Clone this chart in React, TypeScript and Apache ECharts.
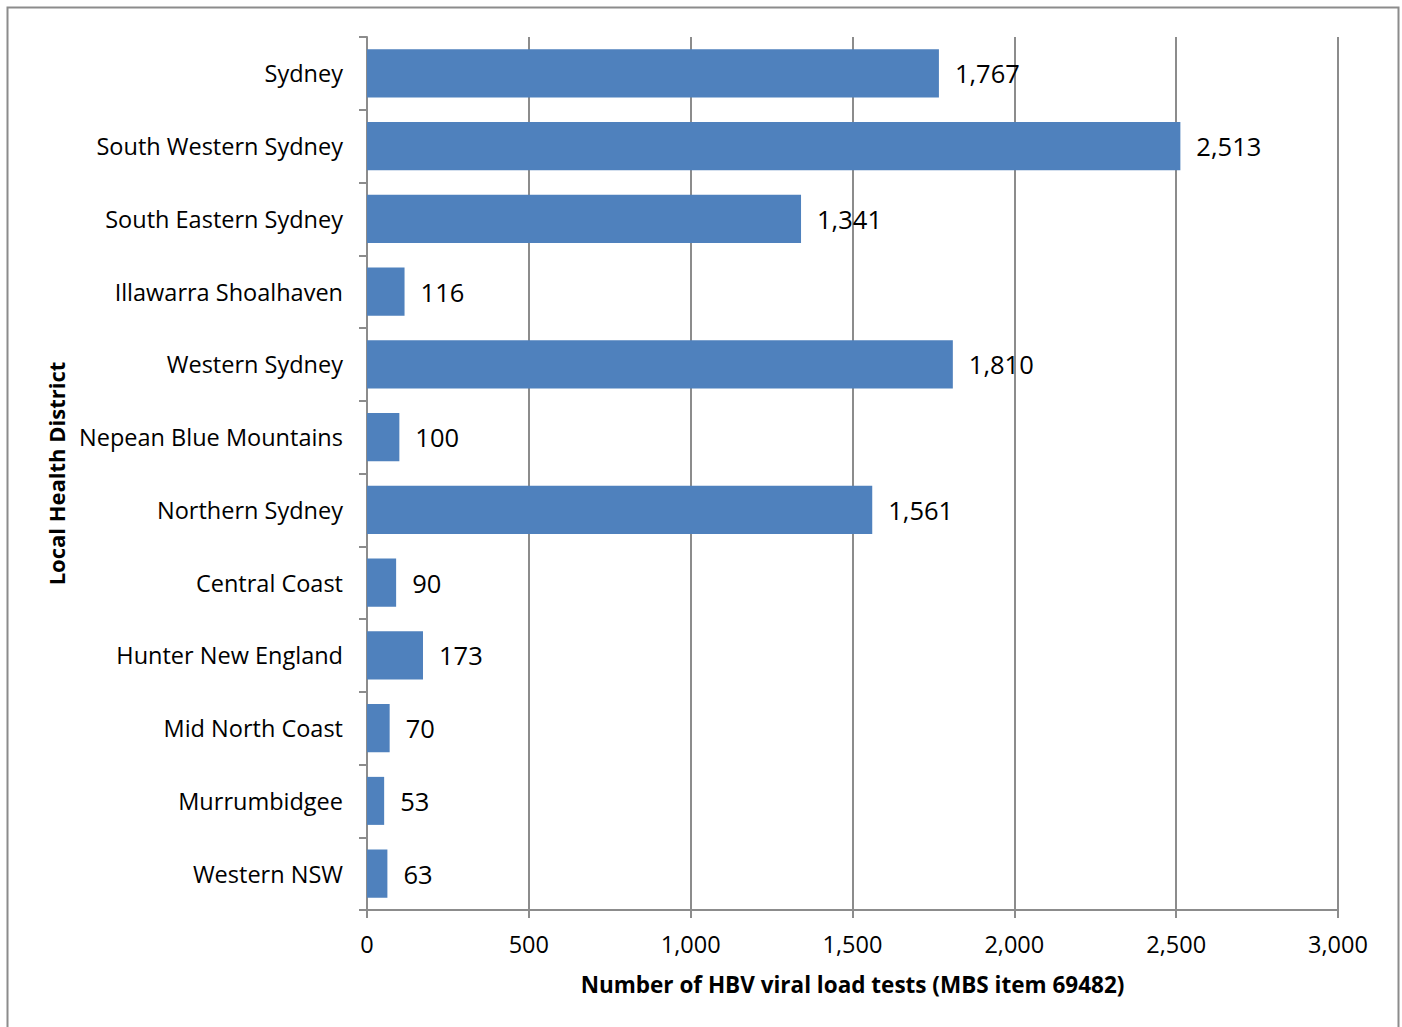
import React, { useEffect, useRef } from "react";
import * as echarts from "echarts";

const districts = [
  "Sydney",
  "South Western Sydney",
  "South Eastern Sydney",
  "Illawarra Shoalhaven",
  "Western Sydney",
  "Nepean Blue Mountains",
  "Northern Sydney",
  "Central Coast",
  "Hunter New England",
  "Mid North Coast",
  "Murrumbidgee",
  "Western NSW",
];

const tests = [1767, 2513, 1341, 116, 1810, 100, 1561, 90, 173, 70, 53, 63];

const FONT = "'Open Sans', Lato, sans-serif";
const fmt = (v: number) => v.toLocaleString("en-US");

const App = () => {
  const chartRef = useRef<HTMLDivElement>(null);

  useEffect(() => {
    document.body.style.margin = "0";
    if (!chartRef.current) return;
    const chart = echarts.init(chartRef.current, undefined, { renderer: "svg" });

    chart.setOption({
      animation: false,
      backgroundColor: "#ffffff",
      textStyle: { fontFamily: FONT },
      graphic: [
        {
          type: "rect",
          shape: { x: 7.5, y: 7.5, width: 1391, height: 1030 },
          style: { fill: "none", stroke: "#8c8c8c", lineWidth: 2 },
          silent: true,
        },
      ],
      grid: { left: 367, right: 64, top: 37, bottom: 117 },
      xAxis: {
        type: "value",
        min: 0,
        max: 3000,
        interval: 500,
        name: "Number of HBV viral load tests (MBS item 69482)",
        nameLocation: "middle",
        nameGap: 63,
        nameTextStyle: { fontSize: 22.5, fontWeight: "bold", color: "#000", fontFamily: FONT },
        axisLine: { show: true, lineStyle: { color: "#8c8c8c", width: 2 } },
        axisTick: { show: true, length: 8, lineStyle: { color: "#8c8c8c", width: 2 } },
        axisLabel: {
          fontSize: 23.5,
          color: "#000",
          margin: 22,
          fontFamily: FONT,
          formatter: (v: number) => fmt(v),
        },
        splitLine: { show: true, lineStyle: { color: "#8c8c8c", width: 2 } },
      },
      yAxis: {
        type: "category",
        data: districts,
        inverse: true,
        name: "Local Health District",
        nameLocation: "middle",
        nameRotate: 90,
        nameGap: 300,
        nameTextStyle: { fontSize: 22, fontWeight: "bold", color: "#000", fontFamily: FONT },
        axisLine: { show: true, lineStyle: { color: "#8c8c8c", width: 2 } },
        axisTick: { show: true, length: 8, lineStyle: { color: "#8c8c8c", width: 2 } },
        axisLabel: { fontSize: 23.5, color: "#000", margin: 24, fontFamily: FONT },
      },
      series: [
        {
          type: "bar",
          data: tests,
          barCategoryGap: "34%",
          itemStyle: { color: "#4f81bd" },
          label: {
            show: true,
            position: "right",
            distance: 16,
            fontSize: 25.5,
            color: "#000",
            fontFamily: FONT,
            formatter: (p: any) => fmt(p.value),
          },
        },
      ],
    });

    return () => {
      chart.dispose();
    };
  }, []);

  return <div ref={chartRef} style={{ width: "1402px", height: "1027px" }} />;
};

export default App;
